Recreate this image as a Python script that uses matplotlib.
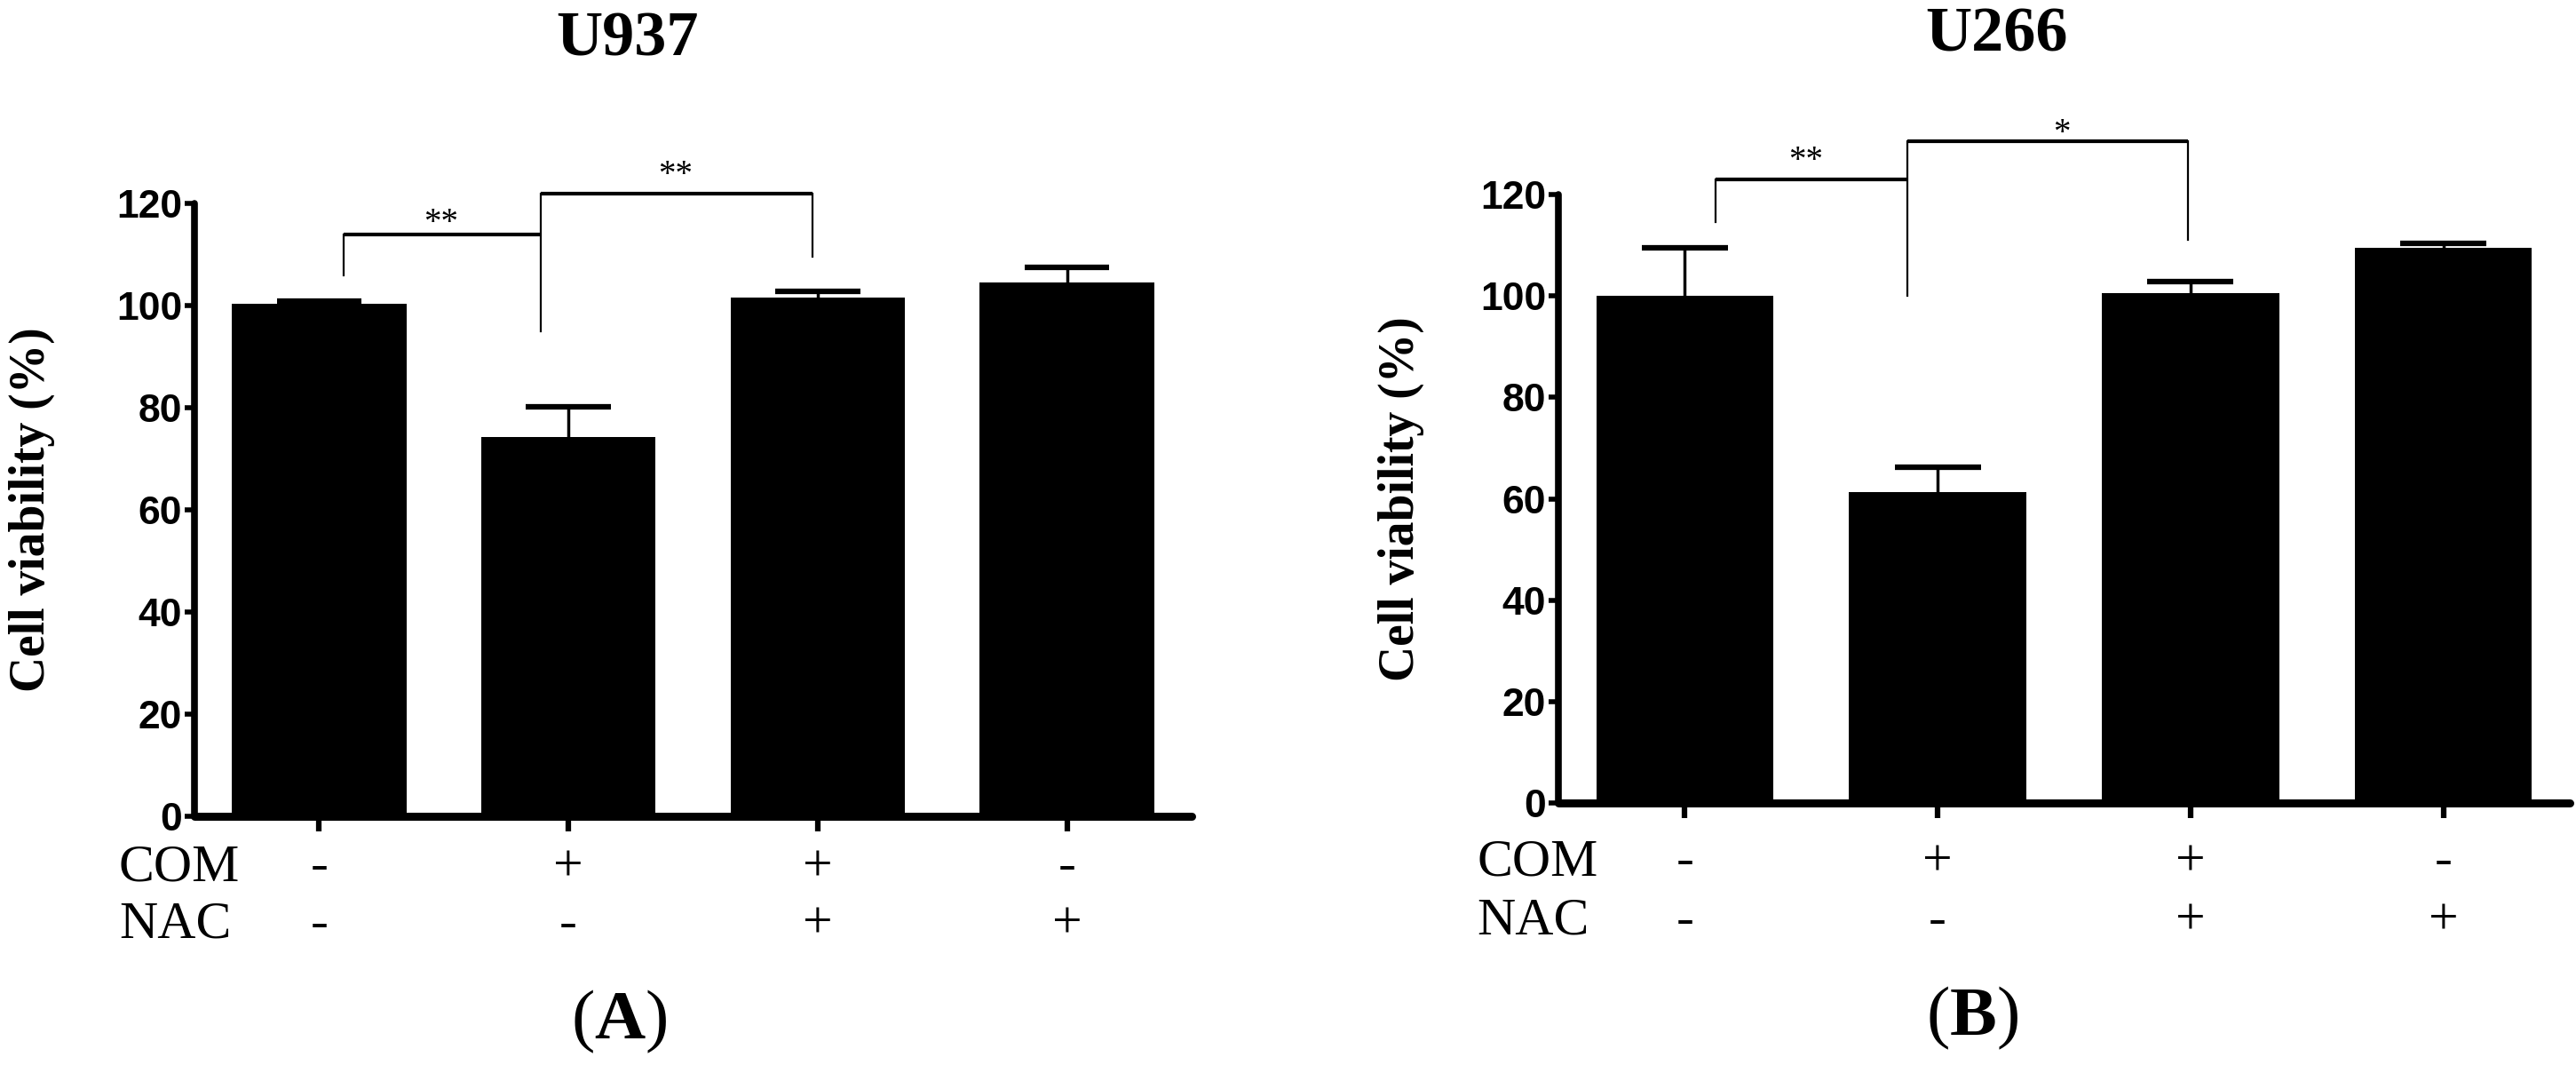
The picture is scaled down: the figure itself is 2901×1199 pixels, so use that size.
import numpy as np
import matplotlib
matplotlib.use("Agg")
import matplotlib.pyplot as plt

plt.rcParams['mathtext.fontset'] = 'custom'
plt.rcParams['mathtext.rm'] = 'Liberation Serif'
plt.rcParams['mathtext.bf'] = 'Liberation Serif:bold'

# data
groups = ["1", "2", "3", "4"]
com_signs = ["-", "+", "+", "-"]
nac_signs = ["-", "-", "+", "+"]

u937_mean = [100.3, 74.2, 101.5, 104.5]
u937_err = [0.5, 6.0, 1.3, 3.0]

u266_mean = [100.0, 61.3, 100.5, 109.5]
u266_err = [9.5, 5.0, 2.3, 0.8]

yticks = [0, 20, 40, 60, 80, 100, 120]

# brackets: (x0, x1, y, left leg bottom, right leg bottom), stars
u937_brackets = [(0.1, 0.89, 114, 106, None), (0.89, 1.98, 122, 95, 109.5)]
u937_stars = [(0.49, 116, "**"), (1.43, 125.5, "**")]
u266_brackets = [(0.12, 0.88, 123, 114.5, None), (0.88, 1.99, 130.5, 100, 111)]
u266_stars = [(0.48, 126.5, "**"), (1.49, 132, "*")]

W, H = 2901, 1199
fig = plt.figure(figsize=(W / 100, H / 100), dpi=100)

serif = ['Liberation Serif', 'DejaVu Serif']
narrow = ['Liberation Sans Narrow', 'Liberation Sans', 'DejaVu Sans']


def panel(rect, means, errs, brackets, stars, title, tag, title_xy, ylab_x, com_xy, nac_y, tag_xy):
    ax = fig.add_axes(rect)
    x = np.arange(len(groups))
    ax.bar(x, means, width=0.7, color='black', zorder=2)
    tops = np.array(means) + np.array(errs)
    # upper error bars only
    ax.vlines(x, means, tops, color='black', lw=2.5, zorder=3)
    ax.hlines(tops, x - 0.17, x + 0.17, color='black', lw=4.5, zorder=3)
    ax.set_xlim(-0.5, 3.5)
    ax.set_ylim(0, 120)
    ax.set_yticks(yticks)
    ax.set_yticklabels([str(t) for t in yticks], family=narrow,
                       fontweight='bold', fontsize=32)
    ax.set_xticks(x)
    ax.set_xticklabels([])
    for s in ['top', 'right']:
        ax.spines[s].set_visible(False)
    ax.spines['left'].set_linewidth(5.5)
    ax.spines['bottom'].set_linewidth(6.5)
    ax.spines['bottom'].set_capstyle('round')
    ax.spines['left'].set_capstyle('round')
    ax.tick_params(axis='y', length=8, width=4, pad=2)
    ax.tick_params(axis='x', length=12, width=4.5)

    for x0, x1, yb, l0, r0 in brackets:
        ax.plot([x0, x1], [yb, yb], color='black', lw=3, clip_on=False,
                solid_capstyle='butt')
        ax.plot([x0, x0], [yb, l0], color='black', lw=1.6, clip_on=False)
        if r0 is not None:
            ax.plot([x1, x1], [yb, r0], color='black', lw=1.6, clip_on=False)
    for sx, sy, s in stars:
        ax.text(sx, sy, s, ha='center', va='center', fontsize=28,
                family=serif, clip_on=False)

    fig.text(title_xy[0] / W, 1 - title_xy[1] / H, title, ha='center', va='center',
             fontsize=52, fontweight='bold', family=serif)
    fig.text(ylab_x / W, rect[1] + rect[3] / 2, "Cell viability (%)", rotation=90,
             ha='center', va='center', fontsize=40, fontweight='bold', family=serif)

    fig.text(com_xy[0] / W, 1 - com_xy[1] / H, "COM", ha='left', va='center',
             fontsize=43, family=serif)
    fig.text(com_xy[0] / W, 1 - nac_y / H, "NAC", ha='left', va='center',
             fontsize=43, family=serif)
    tr = ax.get_xaxis_transform()
    y_com = (1 - com_xy[1] / H - rect[1]) / rect[3]
    y_nac = (1 - nac_y / H - rect[1]) / rect[3]
    for i in range(len(groups)):
        ax.text(i, y_com, com_signs[i], transform=tr, ha='center', va='center',
                fontsize=43, family=serif)
        ax.text(i, y_nac, nac_signs[i], transform=tr, ha='center', va='center',
                fontsize=43, family=serif)
    fig.text(tag_xy[0] / W, 1 - tag_xy[1] / H,
             r'$\mathrm{(}\mathbf{' + tag + r'}\mathrm{)}$',
             ha='center', va='center', fontsize=57)
    return ax


panel([219 / W, 1 - 919 / H, 1123 / W, 690 / H], u937_mean, u937_err,
      u937_brackets, u937_stars, "U937", "A", (706, 45), 36, (134, 977), 1042, (697, 1150))
panel([1755 / W, 1 - 904 / H, 1139 / W, 685 / H], u266_mean, u266_err,
      u266_brackets, u266_stars, "U266", "B", (2249, 40), 1578, (1663, 971), 1038, (2221, 1146))

fig.savefig("out.png", dpi=100)
